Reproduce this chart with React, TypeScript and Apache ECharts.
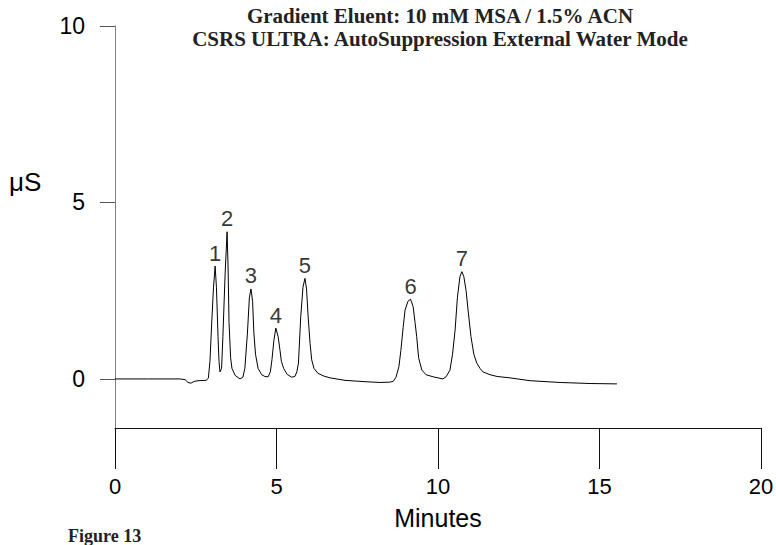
import { useEffect, useRef } from "react";
import * as echarts from "echarts";

// retention times (min) and conductivity (µS)
const times = [
  0, 1.0, 2.01, 2.17, 2.26, 2.35, 2.45, 2.57, 2.82, 2.89, 2.94, 2.99, 3.05, 3.1, 3.14, 3.19, 3.22, 3.25,
  3.3, 3.34, 3.41, 3.47, 3.5, 3.53, 3.58, 3.62, 3.72, 3.87, 3.96, 4.02, 4.1, 4.16, 4.21, 4.26, 4.3, 4.35,
  4.43, 4.54, 4.64, 4.74, 4.81, 4.86, 4.92, 4.98, 5.05, 5.11, 5.15, 5.22, 5.33, 5.47, 5.57, 5.63, 5.68,
  5.75, 5.82, 5.88, 5.93, 5.98, 6.04, 6.09, 6.16, 6.28, 6.47, 6.66, 7.12, 7.77, 8.2, 8.51, 8.61, 8.7,
  8.79, 8.85, 8.92, 8.98, 9.07, 9.15, 9.23, 9.29, 9.34, 9.4, 9.5, 9.63, 9.85, 10.15, 10.25, 10.37, 10.45,
  10.53, 10.6, 10.68, 10.74, 10.8, 10.87, 10.94, 11.02, 11.11, 11.2, 11.3, 11.39, 11.61, 11.83, 12.23,
  12.85, 13.78, 14.71, 15.54,
];
const signal = [
  0, 0, 0, -0.02, -0.1, -0.12, -0.07, -0.05, -0.04, 0.02, 0.5, 1.5, 2.6, 3.2, 2.6, 1.2, 0.5, 0.2,
  0.3, 1.2, 3.0, 4.17, 3.2, 1.6, 0.6, 0.3, 0.1, 0.0, 0.05, 0.3, 1.3, 2.3, 2.55, 2.2, 1.3, 0.7,
  0.3, 0.12, 0.07, 0.06, 0.2, 0.55, 1.1, 1.44, 1.2, 0.8, 0.5, 0.3, 0.13, 0.05, 0.07, 0.2, 0.45,
  1.76, 2.6, 2.85, 2.55, 1.76, 1.0, 0.54, 0.3, 0.16, 0.08, 0.03, -0.04, -0.08, -0.1, -0.09, -0.07, 0.05,
  0.35, 0.8, 1.45, 1.95, 2.2, 2.26, 2.05, 1.6, 1.2, 0.6, 0.25, 0.12, 0.06, 0.0, 0.06, 0.25, 0.7,
  1.39, 2.3, 2.9, 3.04, 2.9, 2.5, 1.87, 1.2, 0.7, 0.45, 0.3, 0.2, 0.12, 0.07, 0.03,
  -0.05, -0.1, -0.13, -0.14,
];

const peakNames = ["1", "2", "3", "4", "5", "6", "7"];
const peakTimes = [3.1, 3.47, 4.21, 4.98, 5.88, 9.15, 10.74];
const peakHeights = [3.2, 4.17, 2.55, 1.44, 2.85, 2.26, 3.04];

const xTicks = [0, 5, 10, 15, 20];
const yTicks = [0, 5, 10];

const titleLines = [
  "Gradient Eluent: 10 mM MSA / 1.5% ACN",
  "CSRS ULTRA: AutoSuppression External Water Mode",
];

const SANS = "'Liberation Sans', Arial, sans-serif";
const SERIF = "'Liberation Serif', 'Times New Roman', serif";

function buildOption(): echarts.EChartsOption {
  return {
    animation: false,
    backgroundColor: "#fff",
    grid: {
      left: 115,
      right: 15,
      top: 26,
      bottom: 117,
      containLabel: false,
      outerBoundsMode: "none",
    } as any,
    xAxis: {
      type: "value",
      min: 0,
      max: 20,
      interval: 5,
      name: "Minutes",
      nameLocation: "middle",
      nameGap: 77,
      nameTextStyle: { fontFamily: SANS, fontSize: 25, color: "#000" },
      axisLine: { onZero: false, lineStyle: { color: "#111", width: 1 } },
      axisTick: { show: true, length: 41, lineStyle: { color: "#111" }, customValues: xTicks } as any,
      axisLabel: { fontFamily: SANS, fontSize: 22, color: "#000", margin: 47, customValues: xTicks } as any,
      splitLine: { show: false },
    },
    yAxis: {
      type: "value",
      min: -1.39,
      max: 10,
      axisLine: { show: true, onZero: false, lineStyle: { color: "#808080", width: 1 } },
      axisTick: { show: true, length: 15, lineStyle: { color: "#555" }, customValues: yTicks } as any,
      axisLabel: { fontFamily: SANS, fontSize: 23, color: "#000", margin: 30, customValues: yTicks } as any,
      splitLine: { show: false },
    },
    graphic: [
      {
        type: "text",
        left: 9,
        top: 169,
        style: { text: "μS", font: `26px ${SANS}`, fill: "#000" },
      },
      {
        type: "text",
        x: 440,
        y: 5,
        style: {
          text: titleLines[0],
          font: `bold 21px ${SERIF}`,
          fill: "#222",
          textAlign: "center",
          textVerticalAlign: "top",
          align: "center",
          verticalAlign: "top",
        } as any,
      },
      {
        type: "text",
        x: 440,
        y: 28,
        style: {
          text: titleLines[1],
          font: `bold 21px ${SERIF}`,
          fill: "#222",
          textAlign: "center",
          textVerticalAlign: "top",
          align: "center",
          verticalAlign: "top",
        } as any,
      },
      {
        type: "text",
        left: 68,
        top: 527,
        style: { text: "Figure 13", font: `bold 18px ${SERIF}`, fill: "#222" },
      },
    ],
    series: [
      {
        type: "line",
        data: times.map((t, i) => [t, signal[i]]),
        showSymbol: false,
        symbol: "none",
        lineStyle: { color: "#000", width: 1 },
        silent: true,
      },
      {
        type: "scatter",
        data: peakTimes.map((t, i) => ({ value: [t, peakHeights[i]], name: peakNames[i] })),
        symbolSize: 0,
        silent: true,
        label: {
          show: true,
          position: "top",
          distance: 2,
          formatter: (p: any) => p.name,
          fontFamily: SANS,
          fontSize: 22,
          color: "#000",
        },
      },
    ],
  };
}

export default function App() {
  const chartRef = useRef<HTMLDivElement>(null);

  useEffect(() => {
    document.body.style.margin = "0";
    if (!chartRef.current) return;
    const chart = echarts.init(chartRef.current, undefined, { renderer: "svg" });
    chart.setOption(buildOption());
    return () => chart.dispose();
  }, []);

  return <div ref={chartRef} style={{ width: 776, height: 545 }} />;
}
